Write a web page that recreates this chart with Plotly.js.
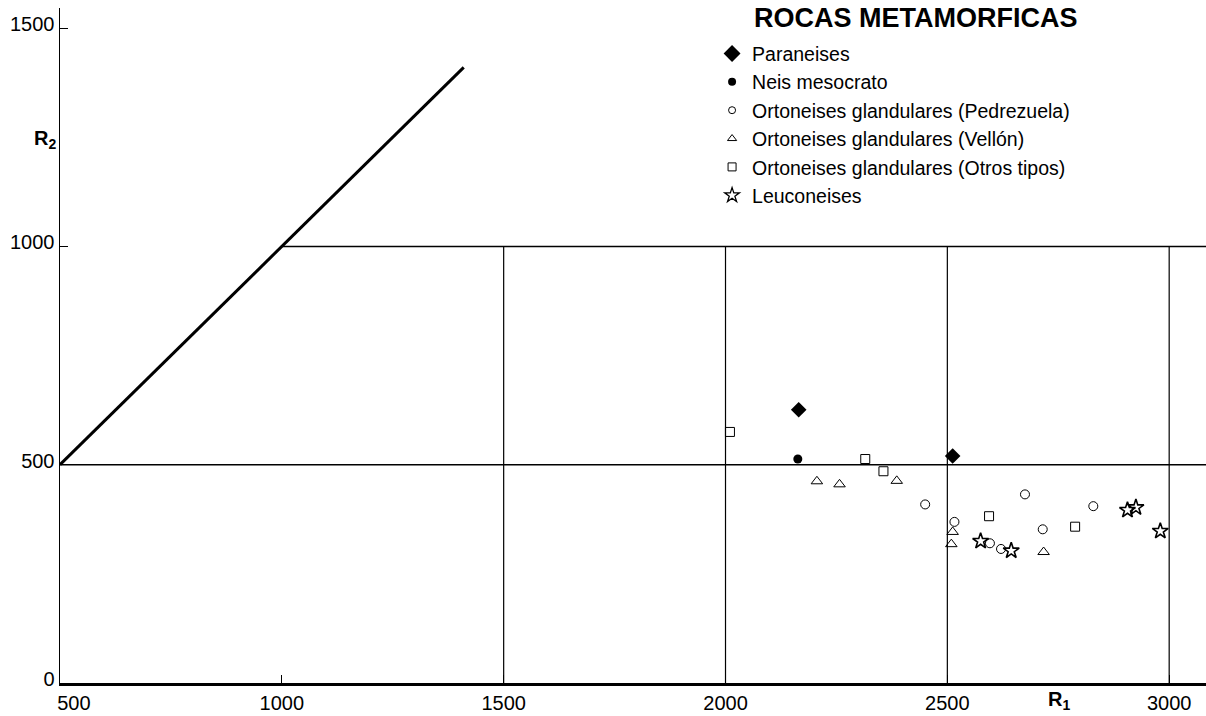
<!DOCTYPE html>
<html>
<head>
<meta charset="utf-8">
<script src="https://cdn.plot.ly/plotly-3.0.1.min.js"></script>
<style>html,body{margin:0;padding:0;background:#fff;}#chart{width:1206px;height:716px;}</style>
</head>
<body>
<div id="chart"></div>
<script>
// ---- data ----
const paraneisesX = [2165, 2512];
const paraneisesY = [626, 520];
const neisX = [2163];
const neisY = [513];
const pedrezuelaX = [2450, 2516, 2675, 2829, 2715, 2596, 2621];
const pedrezuelaY = [409, 369, 432, 405, 352, 320, 307];
const vellonX = [2206, 2257, 2386, 2512, 2509, 2717];
const vellonY = [462, 455, 463, 346, 318, 300];
const otrosX = [2010, 2315, 2356, 2594, 2788];
const otrosY = [575, 513, 485, 382, 358];
const leucoX = [2575, 2644, 2906, 2925, 2980];
const leucoY = [325, 303, 396, 402, 348];

// reference lines of the diagram (R1, R2 values)
const diagX = [500, 1410];
const diagY = [500, 1410];
const h1000X = [1000, 3100];
const h1000Y = [1000, 1000];
const h500X = [500, 3100];
const h500Y = [500, 500];
const vLinesX = [1500, 2000, 2500, 3000];
const vLinesY = [0, 1000];

const xTicks = [500, 1000, 1500, 2000, 2500, 3000];
const xTickText = ['\u00a0\u00a0\u00a0\u00a0\u00a0500', '1000', '1500', '2000', '2500', '3000'];
const yTicks = [0, 500, 1000, 1500];
const yTickText = ['0', '500', '1000', '1500'];

const legendTitle = 'ROCAS METAMORFICAS';
const legendNames = [
  'Paraneises',
  'Neis mesocrato',
  'Ortoneises glandulares (Pedrezuela)',
  'Ortoneises glandulares (Vellón)',
  'Ortoneises glandulares (Otros tipos)',
  'Leuconeises'
];

const FONT = 'Liberation Sans, Arial, Helvetica, sans-serif';
const traces = [];
function lineTrace(x, y, w) {
  traces.push({x: x, y: y, mode: 'lines', line: {color: '#000', width: w},
    showlegend: false, hoverinfo: 'skip', cliponaxis: false});
}
lineTrace(diagX, diagY, 3);
lineTrace(h1000X, h1000Y, 1.5);
lineTrace(h500X, h500Y, 1.5);
vLinesX.forEach(v => lineTrace([v, v], vLinesY, 1.2));

const styles = [
  {symbol: 'diamond', size: 12, lw: 0, lsize: 13},
  {symbol: 'circle', size: 9, lw: 0, lsize: 8},
  {symbol: 'circle-open', size: 9, lw: 1, lsize: 7},
  {symbol: 'triangle-up-open', size: 10, lw: 1, lsize: 8},
  {symbol: 'square-open', size: 9, lw: 1, lsize: 8},
  {symbol: 'star-open', size: 12, lw: 1.6, lsize: 11}
];
const seriesX = [paraneisesX, neisX, pedrezuelaX, vellonX, otrosX, leucoX];
const seriesY = [paraneisesY, neisY, pedrezuelaY, vellonY, otrosY, leucoY];

seriesX.forEach((sx, i) => {
  const s = styles[i];
  traces.push({x: sx, y: seriesY[i], mode: 'markers', name: legendNames[i], showlegend: false,
    marker: {symbol: s.symbol, size: s.size, color: '#000', line: {color: '#000', width: s.lw}},
    cliponaxis: false});
});
// legend entries (smaller symbols, as in the printed key)
legendNames.forEach((n, i) => {
  const s = styles[i];
  traces.push({x: [null], y: [null], mode: 'markers', name: n, legendgroup: 'g' + i,
    marker: {symbol: s.symbol, size: s.lsize, color: '#000', line: {color: '#000', width: Math.min(s.lw, 1.3)}}});
});

const layout = {
  width: 1206, height: 716,
  margin: {l: 60, r: 0, t: 8, b: 33},
  paper_bgcolor: '#fff', plot_bgcolor: '#fff',
  font: {family: FONT, color: '#000', size: 19},
  showlegend: true,
  legend: {x: 0.569, xanchor: 'left', y: 0.961, yanchor: 'top',
    traceorder: 'grouped', tracegroupgap: 0, itemsizing: 'trace',
    font: {family: FONT, size: 19.5, color: '#000'}, bgcolor: 'rgba(0,0,0,0)'},
  xaxis: {range: [500, 3083], tickvals: xTicks, ticktext: xTickText,
    showgrid: false, zeroline: false, showline: true, linecolor: '#000', linewidth: 2.5,
    ticks: 'inside', ticklen: 8, tickcolor: '#000', tickfont: {size: 20, family: FONT}},
  yaxis: {range: [0, 1546], tickvals: yTicks, ticktext: yTickText,
    showgrid: false, zeroline: false, showline: true, linecolor: '#000', linewidth: 1.5,
    ticks: 'inside', ticklen: 8, tickcolor: '#000', tickfont: {size: 20, family: FONT},
    ticklabelshift: -4},
  annotations: [
    {xref: 'paper', yref: 'paper', x: 0.6035, y: 0.985, xanchor: 'left', yanchor: 'middle',
     text: '<b>' + legendTitle + '</b>', showarrow: false, font: {size: 27, family: FONT}},
    {xref: 'paper', yref: 'paper', x: -0.0245, y: 0.805, xanchor: 'left', yanchor: 'middle',
     text: '<b>R<sub>2</sub></b>', showarrow: false, font: {size: 20, family: FONT}},
    {xref: 'paper', yref: 'paper', x: 0.8605, y: -0.005, xanchor: 'left', yanchor: 'top',
     text: '<b>R<sub>1</sub></b>', showarrow: false, font: {size: 20, family: FONT}}
  ]
};

Plotly.newPlot('chart', traces, layout, {displayModeBar: false, staticPlot: true});
</script>
</body>
</html>
